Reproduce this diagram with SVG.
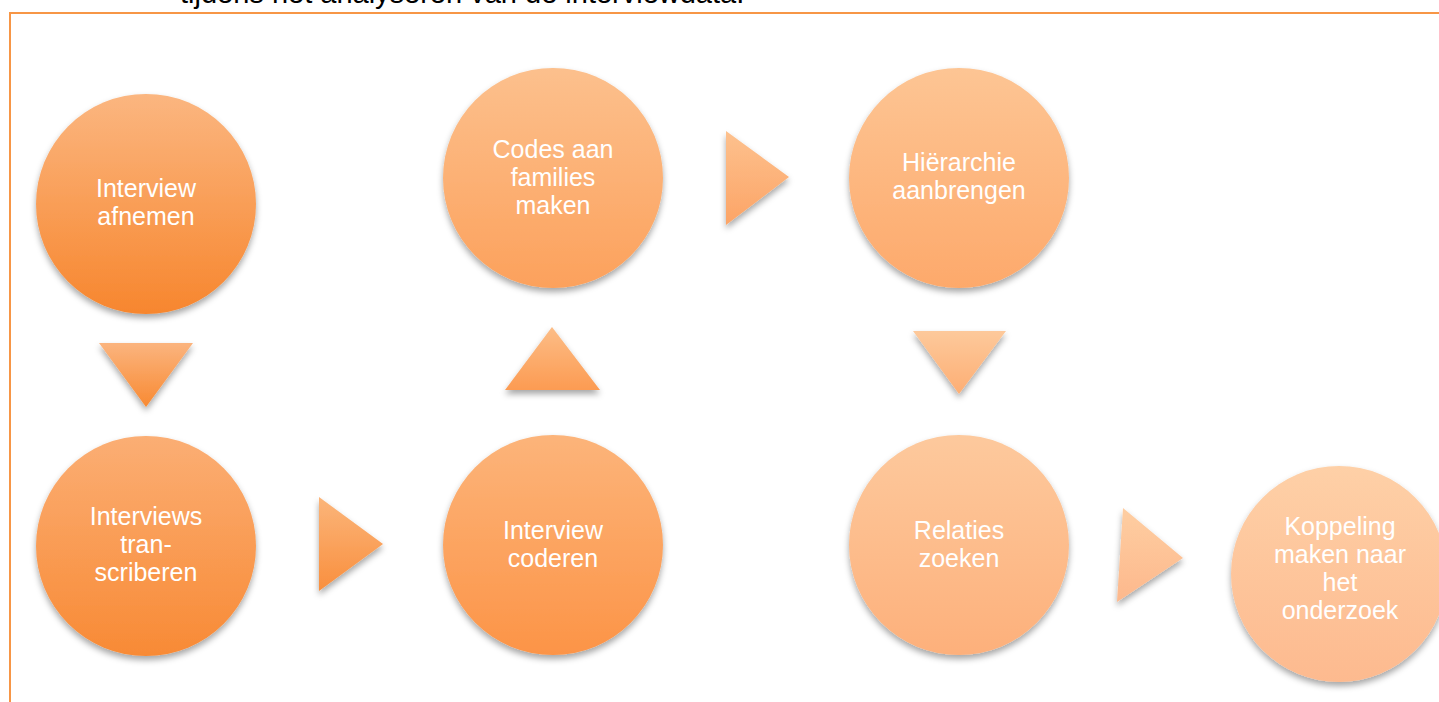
<svg xmlns="http://www.w3.org/2000/svg" width="1439" height="702" viewBox="0 0 1439 702">
  <defs>
    <filter id="shadow" x="-20%" y="-20%" width="140%" height="150%">
      <feDropShadow dx="0" dy="4" stdDeviation="3" flood-color="#000" flood-opacity="0.35"/>
    </filter>
    <linearGradient id="g1" x1="0" y1="0" x2="0" y2="1"><stop offset="0" stop-color="#FBB680"/><stop offset="1" stop-color="#F7862E"/></linearGradient>
    <linearGradient id="g2" x1="0" y1="0" x2="0" y2="1"><stop offset="0" stop-color="#FBAE74"/><stop offset="1" stop-color="#F88A35"/></linearGradient>
    <linearGradient id="g3" x1="0" y1="0" x2="0" y2="1"><stop offset="0" stop-color="#FCB47A"/><stop offset="1" stop-color="#FC9447"/></linearGradient>
    <linearGradient id="g4" x1="0" y1="0" x2="0" y2="1"><stop offset="0" stop-color="#FCC08D"/><stop offset="1" stop-color="#FCA15C"/></linearGradient>
    <linearGradient id="g5" x1="0" y1="0" x2="0" y2="1"><stop offset="0" stop-color="#FDC594"/><stop offset="1" stop-color="#FDA96B"/></linearGradient>
    <linearGradient id="g6" x1="0" y1="0" x2="0" y2="1"><stop offset="0" stop-color="#FDC99D"/><stop offset="1" stop-color="#FDB07B"/></linearGradient>
    <linearGradient id="g7" x1="0" y1="0" x2="0" y2="1"><stop offset="0" stop-color="#FED0A7"/><stop offset="1" stop-color="#FDBA8F"/></linearGradient>
    <linearGradient id="a1" x1="0" y1="0" x2="0" y2="1"><stop offset="0" stop-color="#FBB47E"/><stop offset="1" stop-color="#F88A33"/></linearGradient>
    <linearGradient id="a2" x1="0" y1="0" x2="0" y2="1"><stop offset="0" stop-color="#FBB57A"/><stop offset="1" stop-color="#F98F3E"/></linearGradient>
    <linearGradient id="a3" x1="0" y1="0" x2="0" y2="1"><stop offset="0" stop-color="#FCBD87"/><stop offset="1" stop-color="#FC9B52"/></linearGradient>
    <linearGradient id="a4" x1="0" y1="0" x2="0" y2="1"><stop offset="0" stop-color="#FDC18E"/><stop offset="1" stop-color="#FCA466"/></linearGradient>
    <linearGradient id="a5" x1="0" y1="0" x2="0" y2="1"><stop offset="0" stop-color="#FDC99B"/><stop offset="1" stop-color="#FDAE74"/></linearGradient>
    <linearGradient id="a6" x1="0" y1="0" x2="0" y2="1"><stop offset="0" stop-color="#FECEA2"/><stop offset="1" stop-color="#FDB88C"/></linearGradient>
  </defs>
  <style>
    .lbl { font-family: "Liberation Sans", Arial, sans-serif; font-size: 25px; fill: #FFFFFF; text-anchor: middle; }
    .body { font-family: "Liberation Sans", Arial, sans-serif; font-size: 29px; fill: #000000; }
    .node circle, .arrows polygon { filter: url(#shadow); }
  </style>

  <rect width="1439" height="702" fill="#FFFFFF"/>

  <!-- caption line, mostly above the page edge -->
  <text class="body" x="180" y="3">tijdens het analyseren van de interviewdata.</text>

  <!-- frame -->
  <rect x="10" y="13" width="1500" height="800" fill="none" stroke="#F79646" stroke-width="2"/>

  <!-- connectors -->
  <g id="connectors" class="arrows">
    <polygon points="99,343 193,343 146,407" fill="url(#a1)"/>
    <polygon points="319,497 319,591 383,544" fill="url(#a2)"/>
    <polygon points="505,390 600,390 552,327" fill="url(#a3)"/>
    <polygon points="726,131 726,225 789,177" fill="url(#a4)"/>
    <polygon points="913,331 1006,331 959,394" fill="url(#a5)"/>
    <polygon points="1123,508 1117,602 1183,558" fill="url(#a6)"/>
  </g>

  <g id="n1" class="node">
    <circle cx="146" cy="204" r="110" fill="url(#g1)"/>
    <text class="lbl" x="146" y="197">Interview</text>
    <text class="lbl" x="146" y="225">afnemen</text>
  </g>

  <g id="n2" class="node">
    <circle cx="146" cy="546" r="110" fill="url(#g2)"/>
    <text class="lbl" x="146" y="525">Interviews</text>
    <text class="lbl" x="146" y="553">tran-</text>
    <text class="lbl" x="146" y="581">scriberen</text>
  </g>

  <g id="n3" class="node">
    <circle cx="553" cy="545" r="110" fill="url(#g3)"/>
    <text class="lbl" x="553" y="539">Interview</text>
    <text class="lbl" x="553" y="567">coderen</text>
  </g>

  <g id="n4" class="node">
    <circle cx="553" cy="178" r="110" fill="url(#g4)"/>
    <text class="lbl" x="553" y="158">Codes aan</text>
    <text class="lbl" x="553" y="186">families</text>
    <text class="lbl" x="553" y="214">maken</text>
  </g>

  <g id="n5" class="node">
    <circle cx="959" cy="178" r="110" fill="url(#g5)"/>
    <text class="lbl" x="959" y="171">Hiërarchie</text>
    <text class="lbl" x="959" y="199">aanbrengen</text>
  </g>

  <g id="n6" class="node">
    <circle cx="959" cy="545" r="110" fill="url(#g6)"/>
    <text class="lbl" x="959" y="539">Relaties</text>
    <text class="lbl" x="959" y="567">zoeken</text>
  </g>

  <g id="n7" class="node">
    <circle cx="1339" cy="574" r="108" fill="url(#g7)"/>
    <text class="lbl" x="1340" y="535">Koppeling</text>
    <text class="lbl" x="1340" y="563">maken naar</text>
    <text class="lbl" x="1340" y="591">het</text>
    <text class="lbl" x="1340" y="619">onderzoek</text>
  </g>
</svg>
